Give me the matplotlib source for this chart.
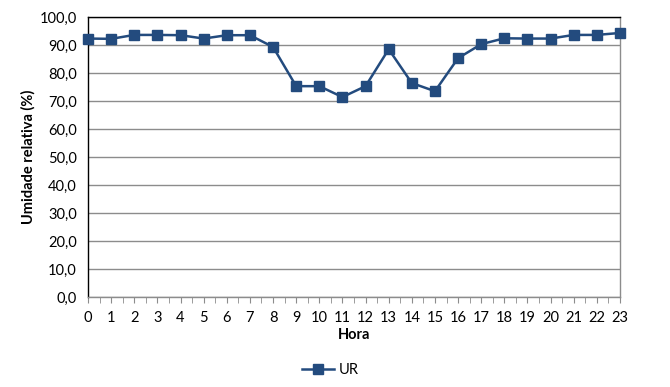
import numpy as np
import matplotlib.pyplot as plt
from matplotlib.ticker import FuncFormatter, MultipleLocator

plt.rcParams['font.family'] = ['Lato', 'DejaVu Sans']

horas = list(range(24))
ur = [92.3, 92.2, 93.6, 93.6, 93.5, 92.3, 93.5, 93.5, 89.3, 75.3, 75.3, 71.4,
      75.3, 88.5, 76.4, 73.5, 85.3, 90.3, 92.4, 92.3, 92.3, 93.6, 93.6, 94.3]

cor = '#234B7E'
cinza = '#8C8C8C'

fig = plt.figure(figsize=(6.7, 3.87), dpi=100)
ax = fig.add_axes([88/670, 1-297/387, (620-88)/670, (297-17)/387])

ax.plot(horas, ur, color=cor, lw=1.8, marker='s', ms=7, label='UR', clip_on=False, zorder=3)

ax.set_xlim(0, 23)
ax.set_ylim(0, 100)
ax.set_xticks(horas)
ax.xaxis.set_minor_locator(MultipleLocator(0.5))
ax.yaxis.set_major_locator(MultipleLocator(10))
ax.yaxis.set_major_formatter(FuncFormatter(lambda v, p: f'{v:.1f}'.replace('.', ',')))
ax.grid(axis='y', color=cinza, lw=1)
ax.set_axisbelow(True)

for s in ['left', 'top']:
    ax.spines[s].set_color('black')
for s in ['right', 'bottom']:
    ax.spines[s].set_color(cinza)
for s in ax.spines.values():
    s.set_linewidth(1)

ax.tick_params(axis='y', length=0, pad=8, labelsize=10.5)
ax.tick_params(axis='x', which='both', length=4, color=cinza, labelsize=10.5, pad=6)

ax.set_xlabel('Hora', fontweight='bold', fontsize=10.5, labelpad=2)
ax.set_ylabel('Umidade relativa (%)', fontweight='bold', fontsize=10.5, labelpad=3)

ax.legend(loc='upper center', bbox_to_anchor=(0.455, -0.19), frameon=False,
          fontsize=10.5, handlelength=2.2, handletextpad=0.3)

fig.savefig('out.png', dpi=100)
